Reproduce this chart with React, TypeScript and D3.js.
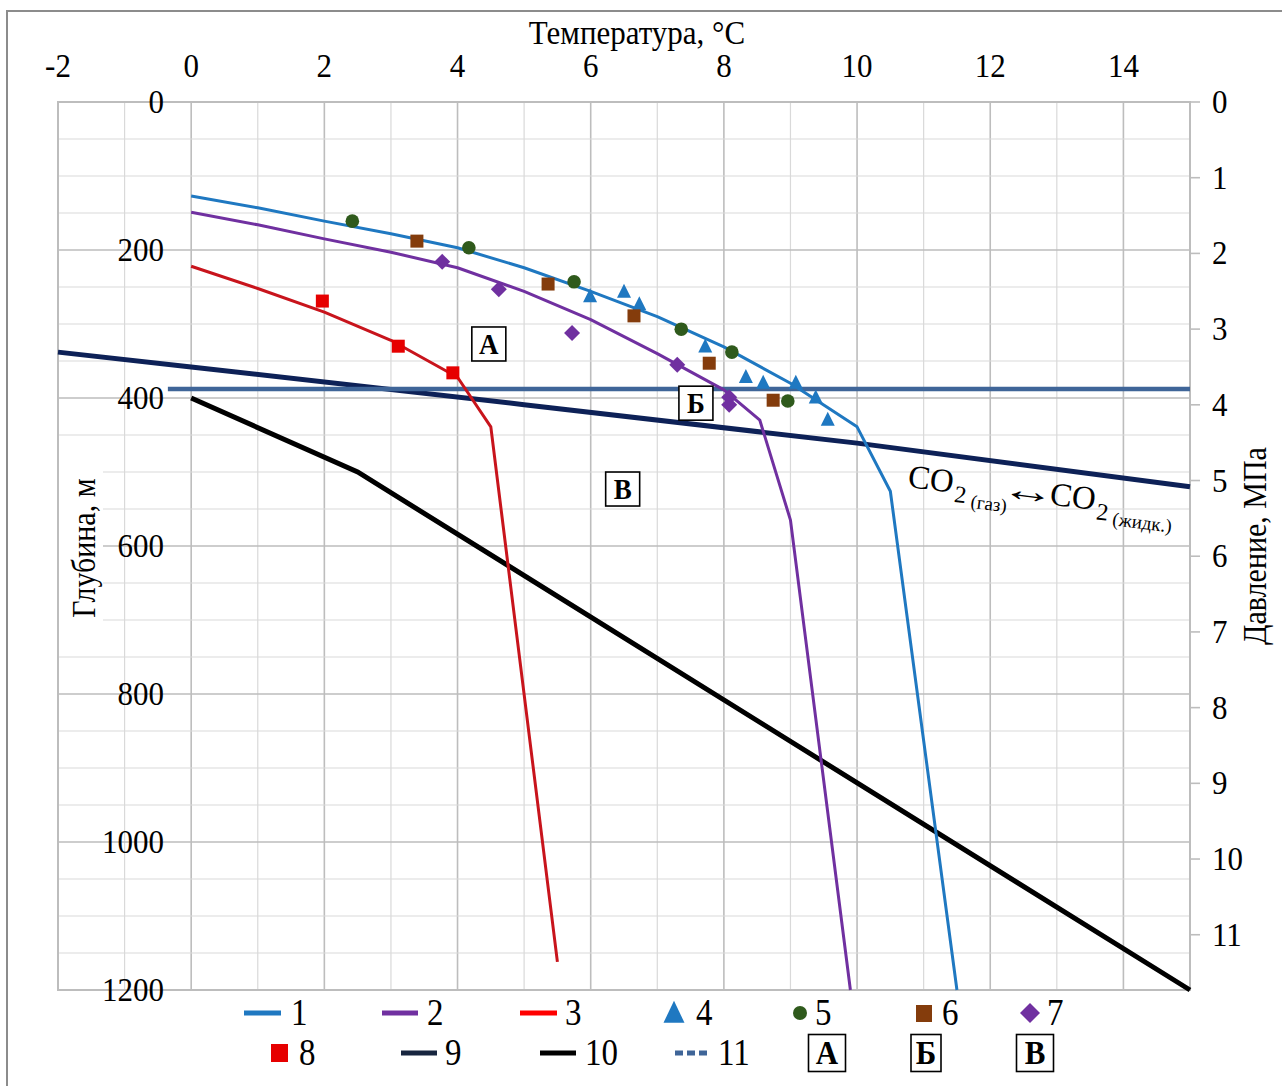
import React from 'react';
import * as d3 from 'd3';

const tempTicks = [-2, 0, 2, 4, 6, 8, 10, 12, 14];
const depthTicks = [0, 200, 400, 600, 800, 1000, 1200];
const pressureTicks = [0, 1, 2, 3, 4, 5, 6, 7, 8, 9, 10, 11];

// profiles 1-3
const temp1 = [0, 1, 2, 3, 4, 5, 6, 7, 8, 9, 10, 10.5, 11.5];
const depth1 = [127, 143, 161, 178, 197, 224, 256, 290, 331, 380, 439, 526, 1200];
const temp2 = [0, 1, 2, 3, 4, 5, 6, 7, 8, 8.54, 9, 9.9];
const depth2 = [149, 166, 185, 203, 224, 256, 294, 340, 389, 430, 565, 1200];
const temp3 = [0, 1, 2, 3, 4, 4.5, 5.5];
const depth3 = [222, 252, 284, 322, 372, 439, 1162];

// measured points 4-8
const temp4 = [5.99, 6.5, 6.73, 7.72, 8.33, 8.59, 9.08, 9.38, 9.56];
const depth4 = [263, 257, 274, 331, 372, 380, 380, 400, 430];
const temp5 = [2.42, 4.17, 5.75, 7.36, 8.12, 8.96];
const depth5 = [161, 197, 243, 307, 338, 404];
const temp6 = [3.39, 5.36, 6.65, 7.78, 8.74];
const depth6 = [188, 246, 289, 353, 403];
const temp7 = [3.77, 4.62, 5.72, 7.3, 8.08, 8.08];
const depth7 = [216, 253, 312, 355, 399, 409];
const temp8 = [1.97, 3.11, 3.93];
const depth8 = [269, 330, 366];

// 9: CO2 gas/liquid, 10, 11
const temp9 = [-2, 0, 5, 10, 15];
const depth9 = [338, 358, 409, 461, 520];
const temp10 = [0, 2.5, 15];
const depth10 = [400, 500, 1200];
const temp11 = [-0.35, 15];
const depth11 = [388, 388];

// zone labels
const zoneNames = ['А', 'Б', 'В'];
const zoneTemp = [4.47, 7.58, 6.48];
const zoneDepth = [327, 407, 523];

const FONT = '"Liberation Serif", "Times New Roman", serif';

const L = 58, R = 1190, T = 102, B = 990;
const x = d3.scaleLinear().domain([-2, 15]).range([L, R]);
const y = d3.scaleLinear().domain([0, 1200]).range([T, B]);
const yP = d3.scaleLinear().domain([0, 11.73]).range([T, B]);

const zip = (a: number[], b: number[]) => a.map((v, i) => [v, b[i]] as [number, number]);
const line = d3.line<[number, number]>().x(d => x(d[0])).y(d => y(d[1]));

const tri = (cx: number, cy: number, w: number, h: number) =>
  `M${cx},${cy - h * 0.6}L${cx + w / 2},${cy + h * 0.4}L${cx - w / 2},${cy + h * 0.4}Z`;
const dia = (cx: number, cy: number, s: number) =>
  `M${cx},${cy - s / 2}L${cx + s / 2},${cy}L${cx},${cy + s / 2}L${cx - s / 2},${cy}Z`;

const C1 = '#1F78C1', C2 = '#7030A0', C3 = '#C8141C', C5 = '#2F5A1C', C6 = '#843C0C', C8 = '#E60000';
const C9 = '#0D2157', C11 = '#3F6598';

// text slightly stretched vertically like the source picture
function Txt({ x: tx, y: ty, fs, anchor = 'start', rot = 0, sy = 1.12, bold = false, children }:
  { x: number; y: number; fs: number; anchor?: string; rot?: number; sy?: number; bold?: boolean; children: any }) {
  return (
    <text transform={`translate(${tx},${ty}) rotate(${rot}) scale(1,${sy})`} textAnchor={anchor}
      fontSize={fs} fontWeight={bold ? 'bold' : 'normal'} fontFamily={FONT}>{children}</text>
  );
}

function Box({ cx, cy, w, h, t, fs }: { cx: number; cy: number; w: number; h: number; t: string; fs: number }) {
  return (
    <g>
      <rect x={cx - w / 2} y={cy - h / 2} width={w} height={h} fill="#fff" stroke="#000" strokeWidth={1.6} />
      <Txt x={cx} y={cy + fs * 0.37} anchor="middle" fs={fs} bold>{t}</Txt>
    </g>
  );
}

export default function App() {
  const vGrid = d3.range(-1, 15);
  const hGrid = d3.range(50, 1200, 50);
  const legY1 = 1013, legY2 = 1053;
  const lfs = 33;
  const legendText = (tx: number, ty: number, s: string) => <Txt x={tx} y={ty + 12} fs={lfs} sy={1.18}>{s}</Txt>;
  return (
    <svg width={1282} height={1086} style={{ position: 'absolute', left: 0, top: 0, background: '#fff' }} fontFamily={FONT}>
      <rect x={0} y={0} width={1282} height={1086} fill="#fff" />
      <rect x={7} y={11} width={1290} height={1100} fill="none" stroke="#8c8c8c" strokeWidth={2} />

      {/* grid */}
      {vGrid.map(v => (
        <line key={'v' + v} x1={x(v)} x2={x(v)} y1={T} y2={B}
          stroke={v % 2 === 0 ? '#bdbdbd' : '#d9d9d9'} strokeWidth={v % 2 === 0 ? 1.6 : 1.2} />
      ))}
      {hGrid.map(v => (
        <line key={'h' + v} x1={L} x2={R} y1={y(v)} y2={y(v)}
          stroke={v % 200 === 0 ? '#bdbdbd' : '#d9d9d9'} strokeWidth={v % 200 === 0 ? 1.6 : 1.2} />
      ))}
      {/* white behind left title */}
      <rect x={59} y={452} width={44} height={188} fill="#fff" />
      <rect x={L} y={T} width={R - L} height={B - T} fill="none" stroke="#bdbdbd" strokeWidth={2} />
      {pressureTicks.map(p => (
        <line key={'pt' + p} x1={R} x2={R + 10} y1={yP(p)} y2={yP(p)} stroke="#bdbdbd" strokeWidth={1.6} />
      ))}

      {/* axes labels */}
      {tempTicks.map(t => (
        <Txt key={'tt' + t} x={x(t)} y={77} anchor="middle" fs={31}>{t}</Txt>
      ))}
      <Txt x={637} y={44} anchor="middle" fs={31}>Температура, °C</Txt>
      {depthTicks.map(d => (
        <Txt key={'dt' + d} x={164} y={y(d) + 11} anchor="end" fs={31}>{d}</Txt>
      ))}
      <Txt x={95} y={548} rot={-90} anchor="middle" fs={30}>Глубина, м</Txt>
      {pressureTicks.map(p => (
        <Txt key={'pl' + p} x={1212} y={yP(p) + 11} fs={31}>{p}</Txt>
      ))}
      <Txt x={1266} y={546} rot={-90} anchor="middle" fs={30}>Давление, МПа</Txt>

      {/* lines */}
      <path d={line(zip(temp10, depth10)) || ''} fill="none" stroke="#000" strokeWidth={5} />
      <path d={line(zip(temp9, depth9)) || ''} fill="none" stroke={C9} strokeWidth={5} />
      <path d={line(zip(temp11, depth11)) || ''} fill="none" stroke={C11} strokeWidth={4.5} />
      <path d={line(zip(temp1, depth1)) || ''} fill="none" stroke={C1} strokeWidth={3} strokeLinejoin="round" />
      <path d={line(zip(temp2, depth2)) || ''} fill="none" stroke={C2} strokeWidth={3} strokeLinejoin="round" />
      <path d={line(zip(temp3, depth3)) || ''} fill="none" stroke={C3} strokeWidth={3} strokeLinejoin="round" />

      {/* points */}
      {zip(temp4, depth4).map((p, i) => <path key={'p4' + i} d={tri(x(p[0]), y(p[1]), 14, 14)} fill={C1} />)}
      {zip(temp5, depth5).map((p, i) => <circle key={'p5' + i} cx={x(p[0])} cy={y(p[1])} r={6.8} fill={C5} />)}
      {zip(temp6, depth6).map((p, i) => <rect key={'p6' + i} x={x(p[0]) - 6.5} y={y(p[1]) - 6.5} width={13} height={13} fill={C6} />)}
      {zip(temp7, depth7).map((p, i) => <path key={'p7' + i} d={dia(x(p[0]), y(p[1]), 16)} fill={C2} />)}
      {zip(temp8, depth8).map((p, i) => <rect key={'p8' + i} x={x(p[0]) - 6.5} y={y(p[1]) - 6.5} width={13} height={13} fill={C8} />)}

      {/* zones */}
      {zoneNames.map((n, i) => (
        <Box key={n} cx={x(zoneTemp[i])} cy={y(zoneDepth[i])} w={34} h={34} t={n} fs={27} />
      ))}

      {/* CO2 label */}
      <g transform="rotate(7, 907, 487)" fontFamily={FONT}>
        <text x={907} y={487} fontSize={33}>CO</text>
        <text x={955} y={496} fontSize={24}>2</text>
        <text x={972} y={500} fontSize={19}>(газ)</text>
        <text transform="translate(1028,487) scale(1.8,1.1)" fontSize={30} textAnchor="middle">↔</text>
        <text x={1050} y={487} fontSize={33}>CO</text>
        <text x={1098} y={496} fontSize={24}>2</text>
        <text x={1115} y={500} fontSize={19}>(жидк.)</text>
      </g>

      {/* legend row 1 */}
      <line x1={244} x2={281} y1={legY1} y2={legY1} stroke={C1} strokeWidth={5} />
      {legendText(291, legY1, '1')}
      <line x1={382} x2={418} y1={legY1} y2={legY1} stroke={C2} strokeWidth={5} />
      {legendText(427, legY1, '2')}
      <line x1={520} x2={557} y1={legY1} y2={legY1} stroke="#FF0000" strokeWidth={5} />
      {legendText(565, legY1, '3')}
      <path d={tri(674, legY1 + 1, 21, 22)} fill={C1} />
      {legendText(696, legY1, '4')}
      <circle cx={800} cy={legY1} r={7} fill={C5} />
      {legendText(815, legY1, '5')}
      <rect x={916} y={legY1 - 8} width={16} height={17} fill={C6} />
      {legendText(942, legY1, '6')}
      <path d={dia(1030, legY1, 20)} fill={C2} />
      {legendText(1047, legY1, '7')}

      {/* legend row 2 */}
      <rect x={271} y={legY2 - 9} width={17} height={18} fill={C8} />
      {legendText(299, legY2, '8')}
      <line x1={401} x2={437} y1={legY2} y2={legY2} stroke="#17253F" strokeWidth={5} />
      {legendText(445, legY2, '9')}
      <line x1={540} x2={576} y1={legY2} y2={legY2} stroke="#000" strokeWidth={5} />
      {legendText(585, legY2, '10')}
      <line x1={675} x2={709} y1={legY2} y2={legY2} stroke={C11} strokeWidth={5} strokeDasharray="8,4" />
      {legendText(718, legY2, '11')}
      <Box cx={827} cy={legY2} w={37} h={37} t="А" fs={31} />
      <Box cx={926} cy={legY2} w={30} h={37} t="Б" fs={31} />
      <Box cx={1035} cy={legY2} w={37} h={37} t="В" fs={31} />
    </svg>
  );
}
